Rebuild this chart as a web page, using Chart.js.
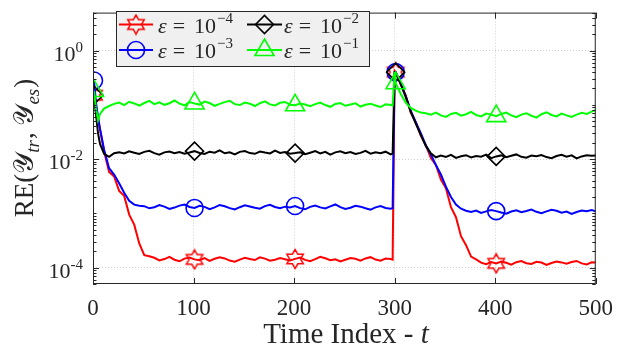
<!DOCTYPE html>
<html>
<head>
<meta charset="utf-8">
<script src="https://cdn.jsdelivr.net/npm/chart.js@4.4.1/dist/chart.umd.min.js"></script>
<style>
  html, body { margin: 0; padding: 0; background: #fff; }
  #wrap { width: 624px; height: 351px; }
</style>
</head>
<body>
<div id="wrap"><canvas id="reChart" width="624" height="351"></canvas></div>
<script>
// ------------------------------------------------------------
// Data (time index t, relative error per eps)
// ------------------------------------------------------------
const T = [1, 3, 5, 7,
  11, 16, 21, 26, 31, 36, 41, 46, 51, 56, 61, 66, 71, 76, 81, 86, 91, 96,
  101, 106, 111, 116, 121, 126, 131, 136, 141, 146, 151, 156, 161, 166, 171, 176, 181, 186, 191, 196,
  201, 206, 211, 216, 221, 226, 231, 236, 241, 246, 251, 256, 261, 266, 271, 276, 281, 286, 291, 296,
  298, 300,
  301, 306, 311, 316, 321, 326, 331, 336, 341, 346, 351, 356, 361, 366, 371, 376, 381, 386, 391, 396,
  401, 406, 411, 416, 421, 426, 431, 436, 441, 446, 451, 456, 461, 466, 471, 476, 481, 486, 491, 496,
  500];

const MARK_T = [1, 101, 201, 301, 401];
const X_TICKS = [0, 100, 200, 300, 400, 500];
const Y_TICKS = [1e-4, 1e-2, 1];
const Y_TICK_EXP = ['-4', '-2', '0'];
const Y_MIN = 5e-5, Y_MAX = 5;

// eps = 1e-4
const re4 = [0.15, 0.09, 0.055, 0.035,
  0.014, 0.0058, 0.0048, 0.0026, 0.0021, 9.5e-4, 6.2e-4, 2.8e-4, 1.7e-4, 1.62e-4, 1.52e-4, 1.36e-4, 1.44e-4, 1.58e-4, 1.40e-4, 1.31e-4, 1.47e-4, 1.54e-4,
  1.42e-4, 1.37e-4, 1.50e-4, 1.33e-4, 1.46e-4, 1.56e-4, 1.48e-4, 1.35e-4, 1.29e-4, 1.41e-4, 1.52e-4, 1.44e-4, 1.38e-4, 1.55e-4, 1.47e-4, 1.34e-4, 1.40e-4, 1.50e-4, 1.43e-4, 1.36e-4,
  1.45e-4, 1.53e-4, 1.39e-4, 1.32e-4, 1.44e-4, 1.58e-4, 1.49e-4, 1.37e-4, 1.43e-4, 1.30e-4, 1.40e-4, 1.51e-4, 1.46e-4, 1.35e-4, 1.48e-4, 1.56e-4, 1.41e-4, 1.34e-4, 1.47e-4, 1.44e-4,
  1.40e-4, 0.42,
  0.40, 0.24, 0.15, 0.072, 0.048, 0.027, 0.018, 0.0105, 0.0078, 0.0042, 0.0029, 0.0013, 8.5e-4, 3.8e-4, 2.6e-4, 1.6e-4, 1.42e-4, 1.24e-4, 1.16e-4, 1.27e-4,
  1.20e-4, 1.29e-4, 1.23e-4, 1.14e-4, 1.26e-4, 1.32e-4, 1.21e-4, 1.17e-4, 1.28e-4, 1.24e-4, 1.12e-4, 1.22e-4, 1.30e-4, 1.25e-4, 1.18e-4, 1.27e-4, 1.33e-4, 1.20e-4, 1.15e-4, 1.26e-4,
  1.24e-4];

// eps = 1e-3
const re3 = [0.28, 0.11, 0.06, 0.036,
  0.015, 0.0068, 0.0052, 0.0036, 0.0024, 0.0017, 0.00145, 0.00138, 1.36e-3, 1.24e-3, 1.30e-3, 1.42e-3, 1.33e-3, 1.21e-3, 1.28e-3, 1.39e-3, 1.45e-3, 1.31e-3,
  1.26e-3, 1.38e-3, 1.32e-3, 1.20e-3, 1.29e-3, 1.43e-3, 1.35e-3, 1.25e-3, 1.18e-3, 1.30e-3, 1.41e-3, 1.34e-3, 1.27e-3, 1.22e-3, 1.36e-3, 1.44e-3, 1.31e-3, 1.24e-3, 1.33e-3, 1.28e-3,
  1.37e-3, 1.25e-3, 1.19e-3, 1.32e-3, 1.40e-3, 1.29e-3, 1.23e-3, 1.35e-3, 1.46e-3, 1.30e-3, 1.21e-3, 1.27e-3, 1.38e-3, 1.33e-3, 1.24e-3, 1.17e-3, 1.29e-3, 1.36e-3, 1.26e-3, 1.22e-3,
  1.25e-3, 0.40,
  0.40, 0.25, 0.145, 0.078, 0.048, 0.030, 0.018, 0.0122, 0.0078, 0.0052, 0.0031, 0.0020, 0.00145, 0.00122, 0.00112, 1.06e-3, 1.13e-3, 1.02e-3, 1.09e-3, 1.15e-3,
  1.10e-3, 1.04e-3, 0.99e-3, 1.08e-3, 1.14e-3, 1.05e-3, 1.11e-3, 1.18e-3, 1.07e-3, 1.01e-3, 1.09e-3, 1.16e-3, 1.12e-3, 1.03e-3, 1.08e-3, 0.98e-3, 1.06e-3, 1.13e-3, 1.10e-3, 1.15e-3,
  1.09e-3];

// eps = 1e-2
const re2 = [0.15, 0.065, 0.03, 0.019,
  0.0125, 0.0110, 0.0128, 0.0134, 0.0127, 0.0139, 0.0131, 0.0124, 0.0136, 0.0142, 0.0129, 0.0121, 0.0133, 0.0138, 0.0128, 0.0135, 0.0126, 0.0132,
  0.0140, 0.0130, 0.0124, 0.0137, 0.0131, 0.0145, 0.0128, 0.0133, 0.0122, 0.0136, 0.0141, 0.0129, 0.0125, 0.0138, 0.0132, 0.0127, 0.0143, 0.0130, 0.0135, 0.0126,
  0.0129, 0.0134, 0.0123, 0.0131, 0.0140, 0.0127, 0.0136, 0.0121, 0.0133, 0.0139, 0.0128, 0.0135, 0.0124, 0.0130, 0.0142, 0.0126, 0.0133, 0.0128, 0.0137, 0.0122,
  0.0126, 0.40,
  0.40, 0.24, 0.14, 0.075, 0.045, 0.028, 0.0175, 0.0128, 0.0108, 0.0116, 0.0110, 0.0120, 0.0105, 0.0113, 0.0118, 0.0107, 0.0114, 0.0111, 0.0121, 0.0104,
  0.0112, 0.0117, 0.0108, 0.0115, 0.0122, 0.0110, 0.0106, 0.0116, 0.0113, 0.0119, 0.0109, 0.0104, 0.0114, 0.0120, 0.0111, 0.0117, 0.0103, 0.0112, 0.0118, 0.0115,
  0.0116];

// eps = 1e-1
const re1 = [0.18, 0.085, 0.052, 0.068,
  0.085, 0.095, 0.104, 0.110, 0.099, 0.114, 0.106, 0.097, 0.108, 0.118, 0.103, 0.111, 0.100, 0.107, 0.120, 0.105, 0.098, 0.112,
  0.106, 0.101, 0.115, 0.108, 0.096, 0.104, 0.112, 0.119, 0.103, 0.099, 0.110, 0.105, 0.095, 0.107, 0.116, 0.102, 0.097, 0.109, 0.113, 0.100,
  0.098, 0.106, 0.101, 0.094, 0.103, 0.110, 0.099, 0.092, 0.104, 0.108, 0.096, 0.101, 0.107, 0.093, 0.100, 0.105, 0.097, 0.091, 0.102, 0.099,
  0.097, 0.40,
  0.25, 0.16, 0.11, 0.088, 0.078, 0.072, 0.070, 0.066, 0.072, 0.064, 0.060, 0.068, 0.071, 0.063, 0.067, 0.074, 0.065, 0.061, 0.069, 0.066,
  0.062, 0.068, 0.072, 0.064, 0.059, 0.066, 0.070, 0.063, 0.058, 0.067, 0.073, 0.065, 0.061, 0.069, 0.064, 0.060, 0.066, 0.071, 0.068, 0.075,
  0.080];

// ------------------------------------------------------------
// Styling
// ------------------------------------------------------------
const SERIF = '"Liberation Serif", "Times New Roman", serif';
const AXIS_COLOR = '#262626';
const GRID_COLOR = 'rgba(38, 38, 38, 0.22)';

// MATLAB-ish hexagram marker, drawn once into an offscreen canvas
function hexagram(color) {
  var c = document.createElement('canvas');
  c.width = c.height = 22;
  var g = c.getContext('2d');
  var ro = 9.5, ri = ro / Math.sqrt(3);
  g.beginPath();
  for (var k = 0; k < 12; k++) {
    var r = k % 2 ? ri : ro;
    var a = -Math.PI / 2 + k * Math.PI / 6;
    g.lineTo(11 + r * Math.cos(a), 11 + r * Math.sin(a));
  }
  g.closePath();
  g.strokeStyle = color;
  g.lineWidth = 1.5;
  g.stroke();
  return c;
}

function makeSeries(values, color, style, radius, exp, order) {
  return {
    data: T.map(function(t, i) { return { x: t, y: values[i] }; }),
    borderColor: color,
    borderWidth: 2,
    pointStyle: style,
    pointBorderColor: color,
    pointBackgroundColor: 'rgba(0,0,0,0)',
    pointBorderWidth: 1.6,
    pointRadius: function(c) { return MARK_T.indexOf(T[c.dataIndex]) >= 0 ? radius : 0; },
    pointHoverRadius: 0,
    tension: 0,
    order: order,
    legendExp: exp,
    legendRadius: radius
  };
}

var datasets = [
  makeSeries(re4, '#ff0000', hexagram('#ff0000'), 9, '\u22124', 4),
  makeSeries(re3, '#0000ff', 'circle', 8.5, '\u22123', 3),
  makeSeries(re2, '#000000', 'rectRot', 9, '\u22122', 2),
  makeSeries(re1, '#00ff00', 'triangle', 11, '\u22121', 1)
];

// draw a run of text pieces (font / vertical shift / extra space after)
function richWidth(ctx, parts) {
  var w = 0;
  parts.forEach(function(p) { ctx.font = p.f; w += ctx.measureText(p.t).width + (p.sp || 0); });
  return w;
}
function drawRich(ctx, parts, x, y) {
  parts.forEach(function(p) {
    ctx.font = p.f;
    ctx.fillText(p.t, x, y + (p.dy || 0));
    x += ctx.measureText(p.t).width + (p.sp || 0);
  });
}

// ------------------------------------------------------------
// Box, inward ticks, tick labels, axis titles, legend
// ------------------------------------------------------------
const matlabAxes = {
  id: 'matlabAxes',
  afterDraw: function(chart) {
    var ctx = chart.ctx, a = chart.chartArea;
    var xs = chart.scales.x, ys = chart.scales.y;
    ctx.save();
    ctx.strokeStyle = AXIS_COLOR;
    ctx.fillStyle = AXIS_COLOR;
    ctx.lineWidth = 1;

    // x ticks, bottom and top
    ctx.beginPath();
    X_TICKS.forEach(function(v) {
      var px = Math.round(xs.getPixelForValue(v)) + 0.5;
      ctx.moveTo(px, a.bottom); ctx.lineTo(px, a.bottom - 6);
      ctx.moveTo(px, a.top); ctx.lineTo(px, a.top + 6);
    });
    // y ticks: majors at labelled decades, minors at m*10^k
    for (var k = -5; k <= 0; k++) {
      for (var m = 1; m <= 9; m++) {
        var v = m * Math.pow(10, k);
        if (v < Y_MIN || v > Y_MAX) continue;
        var py = Math.round(ys.getPixelForValue(v)) + 0.5;
        var len = (m === 1 && k % 2 === 0) ? 6 : 3.5;
        ctx.moveTo(a.left, py); ctx.lineTo(a.left + len, py);
        ctx.moveTo(a.right, py); ctx.lineTo(a.right - len, py);
      }
    }
    ctx.stroke();
    ctx.strokeRect(a.left + 0.5, a.top + 0.5, a.right - a.left - 1, a.bottom - a.top - 1);

    // y tick labels 10^k
    ctx.textBaseline = 'alphabetic';
    Y_TICKS.forEach(function(v, i) {
      var py = ys.getPixelForValue(v);
      var parts = [
        { t: '10', f: '22px ' + SERIF },
        { t: Y_TICK_EXP[i], f: '15px ' + SERIF, dy: -9 }
      ];
      drawRich(ctx, parts, a.left - 10 - richWidth(ctx, parts), py + 10);
    });

    // x title
    var xt = [
      { t: 'Time Index - ', f: '29px ' + SERIF },
      { t: 't', f: 'italic 29px ' + SERIF }
    ];
    drawRich(ctx, xt, 346 - richWidth(ctx, xt) / 2, 343);

    // y title, rotated
    var yt = [
      { t: 'RE(', f: '27px ' + SERIF },
      { t: '\uD835\uDCB4', f: '27px ' + SERIF },
      { t: 'tr', f: 'italic 19px ' + SERIF, dy: 6, sp: 1 },
      { t: ', ', f: '27px ' + SERIF },
      { t: '\uD835\uDCB4', f: '27px ' + SERIF },
      { t: 'es', f: 'italic 19px ' + SERIF, dy: 6, sp: 1 },
      { t: ')', f: '27px ' + SERIF }
    ];
    ctx.save();
    ctx.translate(33, 148);
    ctx.rotate(-Math.PI / 2);
    drawRich(ctx, yt, -richWidth(ctx, yt) / 2, 0);
    ctx.restore();

    // legend (2 x 2, column-major like MATLAB NumColumns = 2)
    ctx.fillStyle = '#f0f0f0';
    ctx.fillRect(116.5, 11.5, 253, 55);
    ctx.strokeStyle = AXIS_COLOR;
    ctx.strokeRect(116.5, 11.5, 253, 55);
    var cols = [{ x0: 119, x1: 153, tx: 158 }, { x0: 247, x1: 282, tx: 284 }];
    var rows = [24.5, 50];
    chart.data.datasets.forEach(function(ds, i) {
      var col = cols[Math.floor(i / 2)], cy = rows[i % 2];
      ctx.strokeStyle = ds.borderColor;
      ctx.lineWidth = 2;
      ctx.beginPath();
      ctx.moveTo(col.x0, cy); ctx.lineTo(col.x1, cy);
      ctx.stroke();
      ctx.lineWidth = 1.6;
      ctx.fillStyle = 'rgba(0,0,0,0)';
      Chart.helpers.drawPoint(ctx, { pointStyle: ds.pointStyle, radius: ds.legendRadius, borderWidth: 1.6, rotation: 0 },
        (col.x0 + col.x1) / 2, cy);
      ctx.fillStyle = AXIS_COLOR;
      drawRich(ctx, [
        { t: '\u03B5', f: 'italic 22px ' + SERIF, sp: 6 },
        { t: '=', f: '22px ' + SERIF, sp: 9 },
        { t: '10', f: '22px ' + SERIF, sp: 1 },
        { t: ds.legendExp, f: '15px ' + SERIF, dy: -10 }
      ], col.tx, cy + 8);
    });
    ctx.restore();
  }
};

new Chart(document.getElementById('reChart').getContext('2d'), {
  type: 'line',
  data: { datasets: datasets },
  options: {
    responsive: false,
    devicePixelRatio: 1,
    animation: false,
    events: [],
    layout: { padding: { left: 0, right: 28, top: 3, bottom: 0 } },
    plugins: { legend: { display: false }, tooltip: { enabled: false } },
    scales: {
      x: {
        type: 'linear', min: 0, max: 500,
        afterBuildTicks: function(s) { s.ticks = X_TICKS.map(function(v) { return { value: v }; }); },
        afterFit: function(s) { s.height = 67; },
        ticks: { autoSkip: false, maxRotation: 0, padding: 11, color: AXIS_COLOR, font: { family: SERIF, size: 23 } },
        grid: { color: GRID_COLOR, lineWidth: 1, drawTicks: false },
        border: { display: false, dash: [1, 2] }
      },
      y: {
        type: 'logarithmic', min: Y_MIN, max: Y_MAX,
        afterBuildTicks: function(s) { s.ticks = Y_TICKS.map(function(v) { return { value: v }; }); },
        afterFit: function(s) { s.width = 93; },
        ticks: { display: false },
        grid: { color: GRID_COLOR, lineWidth: 1, drawTicks: false },
        border: { display: false, dash: [1, 2] }
      }
    }
  },
  plugins: [matlabAxes]
});
</script>
</body>
</html>
